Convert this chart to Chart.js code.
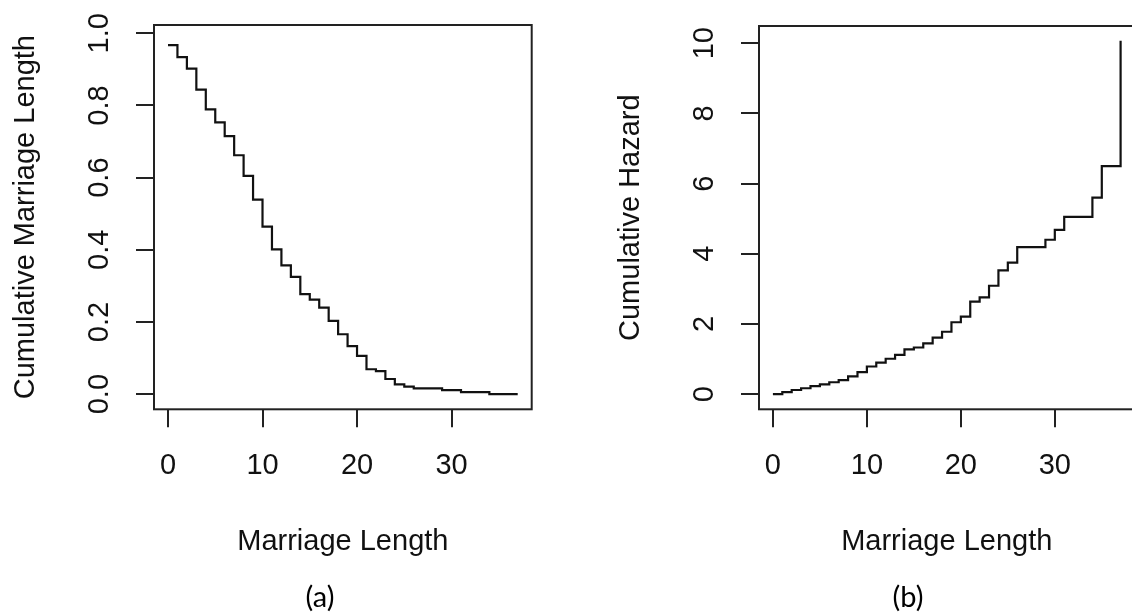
<!DOCTYPE html>
<html lang="en">
<head>
  <meta charset="UTF-8" />
  <title>Marriage Length survival and hazard</title>
  <style>
    html, body {
      margin: 0;
      padding: 0;
      background: #fff;
      overflow: hidden;
      width: 1132px;
      height: 613px;
    }
    .panel {
      position: absolute;
      top: 0;
      height: 613px;
    }
    #panelA { left: 0; width: 566px; }
    #panelB { left: 566px; width: 571px; }
    .caption {
      position: absolute;
      top: 578px;
      width: 80px;
      text-align: center;
      font-family: Lato, "Open Sans", sans-serif;
      font-size: 29px;
      color: #000;
    }
  </style>
</head>
<body>
  <div class="panel" id="panelA"><canvas id="chartA" width="566" height="613"></canvas></div>
  <div class="panel" id="panelB"><canvas id="chartB" width="571" height="613"></canvas></div>
  <div class="caption" style="left:280px">(a)</div>
  <div class="caption" style="left:868px">(b)</div>

  <script src="https://cdn.jsdelivr.net/npm/chart.js"></script>
  <script>
    // step times and values
    const survTimes = [0, 1, 2, 3, 4, 5, 6, 7, 8, 9, 10, 11, 12, 13, 14, 15, 16, 17, 18, 19, 20, 21, 22, 23, 24, 25, 26, 29, 31, 34, 37];
    const survValues = [0.967, 0.934, 0.902, 0.844, 0.789, 0.753, 0.715, 0.662, 0.605, 0.539, 0.464, 0.401, 0.357, 0.325, 0.277, 0.262, 0.240, 0.203, 0.166, 0.133, 0.106, 0.069, 0.064, 0.042, 0.027, 0.021, 0.016, 0.011, 0.0055, 0.0, 0.0];

    const hazTimes = [0, 1, 2, 3, 4, 5, 6, 7, 8, 9, 10, 11, 12, 13, 14, 15, 16, 17, 18, 19, 20, 21, 22, 23, 24, 25, 26, 29, 30, 31, 34, 35, 37];
    const hazValues = [0.0, 0.06, 0.12, 0.17, 0.23, 0.28, 0.34, 0.40, 0.51, 0.63, 0.79, 0.90, 1.01, 1.12, 1.28, 1.33, 1.45, 1.61, 1.78, 2.05, 2.21, 2.64, 2.76, 3.09, 3.53, 3.75, 4.19, 4.40, 4.68, 5.05, 5.60, 6.50, 10.07];

    const xTicks = [0, 10, 20, 30];
    const yTicksA = [0, 0.2, 0.4, 0.6, 0.8, 1.0];
    const yTicksB = [0, 2, 4, 6, 8, 10];

    const FONT = 'Liberation Sans, Arial, sans-serif';
    const INK = '#111';
    const LINE = '#222';

    const boxPlugin = {
      id: 'box',
      afterDraw(chart) {
        const { ctx, chartArea: a } = chart;
        ctx.save();
        ctx.strokeStyle = LINE;
        ctx.lineWidth = 2;
        ctx.strokeRect(a.left, a.top, a.right - a.left, a.bottom - a.top);
        ctx.restore();
      }
    };

    function makeChart(id, opts) {
      const points = opts.times.map((t, i) => ({ x: t, y: opts.values[i] }));
      return new Chart(document.getElementById(id), {
        type: 'line',
        data: {
          datasets: [{
            data: points,
            borderColor: '#111',
            borderWidth: 2.2,
            pointRadius: 0,
            stepped: true,
            fill: false
          }]
        },
        options: {
          responsive: false,
          animation: false,
          layout: { padding: { left: 0, top: opts.top, right: opts.padRight, bottom: 0 } },
          plugins: { legend: { display: false }, tooltip: { enabled: false } },
          scales: {
            x: {
              type: 'linear',
              min: -1.48,
              max: 38.48,
              afterBuildTicks: s => { s.ticks = xTicks.map(v => ({ value: v })); },
              afterFit: s => {
                s.height = 613 - 409.3;
                s.paddingLeft = 0;
                s.paddingRight = 0;
              },
              grid: { drawOnChartArea: false, drawTicks: true, tickLength: 18, color: LINE, lineWidth: 2 },
              border: { display: false },
              ticks: {
                color: INK,
                font: { family: FONT, size: 29 },
                padding: 21,
                maxRotation: 0,
                autoSkip: false
              },
              title: {
                display: true,
                text: 'Marriage Length',
                color: INK,
                font: { family: FONT, size: 29 },
                padding: { top: 0, bottom: 54 }
              }
            },
            y: {
              type: 'linear',
              min: opts.yMin,
              max: opts.yMax,
              afterBuildTicks: s => { s.ticks = opts.yTicks.map(v => ({ value: v })); },
              afterFit: s => {
                s.width = opts.axisWidth;
                s.paddingTop = 0;
                s.paddingBottom = 0;
              },
              grid: { drawOnChartArea: false, drawTicks: true, tickLength: 18, color: LINE, lineWidth: 2 },
              border: { display: false },
              ticks: {
                color: INK,
                font: { family: FONT, size: 29 },
                minRotation: 90,
                maxRotation: 90,
                crossAlign: 'center',
                padding: opts.tickPad,
                autoSkip: false,
                callback: opts.fmt
              },
              title: {
                display: true,
                text: opts.yTitle,
                color: INK,
                font: { family: FONT, size: 29 },
                padding: { top: opts.titlePad, bottom: 0 }
              }
            }
          }
        },
        plugins: [boxPlugin]
      });
    }

    makeChart('chartA', {
      times: survTimes, values: survValues,
      yMin: -0.042, yMax: 1.023, yTicks: yTicksA,
      yTitle: 'Cumulative Marriage Length',
      axisWidth: 154, top: 25, padRight: 34.3,
      tickPad: 15.8, titlePad: 8.6,
      fmt: v => Number(v).toFixed(1)
    });

    makeChart('chartB', {
      times: hazTimes, values: hazValues,
      yMin: -0.43, yMax: 10.49, yTicks: yTicksB,
      yTitle: 'Cumulative Hazard',
      axisWidth: 193, top: 26, padRight: 2.5,
      tickPad: 19.9, titlePad: 47.8,
      fmt: v => String(v)
    });
  </script>
</body>
</html>
